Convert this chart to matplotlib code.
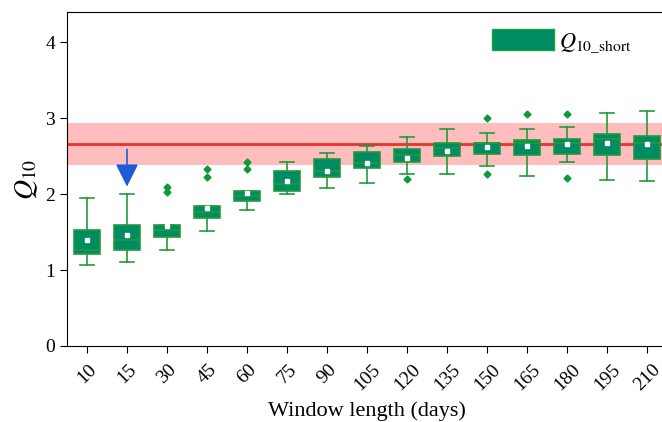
import matplotlib.pyplot as plt
from matplotlib.patches import Patch

windows = [10, 15, 30, 45, 60, 75, 90, 105, 120, 135, 150, 165, 180, 195, 210]
whisk_lo = [1.07, 1.11, 1.27, 1.52, 1.79, 2.00, 2.08, 2.15, 2.26, 2.26, 2.37, 2.24, 2.42, 2.19, 2.17]
box_q1 = [1.21, 1.26, 1.43, 1.68, 1.91, 2.04, 2.22, 2.35, 2.43, 2.50, 2.53, 2.51, 2.53, 2.52, 2.47]
box_med = [1.27, 1.39, 1.53, 1.76, 1.97, 2.13, 2.31, 2.41, 2.51, 2.61, 2.67, 2.67, 2.68, 2.73, 2.68]
box_q3 = [1.53, 1.60, 1.59, 1.85, 2.04, 2.30, 2.47, 2.55, 2.59, 2.67, 2.68, 2.72, 2.73, 2.79, 2.77]
whisk_hi = [1.95, 2.00, 1.59, 1.85, 2.04, 2.43, 2.54, 2.64, 2.75, 2.86, 2.81, 2.86, 2.89, 3.07, 3.10]
means = [1.40, 1.46, 1.58, 1.82, 2.02, 2.17, 2.31, 2.41, 2.48, 2.57, 2.62, 2.64, 2.66, 2.67, 2.66]
outliers = [[], [], [2.03, 2.09], [2.22, 2.33], [2.33, 2.42], [], [], [], [2.20], [],
            [2.26, 3.00], [3.06], [2.21, 3.05], [], []]

long_q10 = 2.66
long_lo = 2.38
long_hi = 2.94

plt.rcParams['font.family'] = ['Liberation Serif', 'DejaVu Serif']
plt.rcParams['mathtext.fontset'] = 'stix'

fill_c = '#008c62'
edge_c = '#239b3b'

fig = plt.figure(figsize=(6.62, 4.22), dpi=100)
ax = fig.add_axes([67 / 662, 76 / 422, 600 / 662, 334 / 422])

ax.axhspan(long_lo, long_hi, color='#ffbdbd', lw=0, zorder=0)
ax.axhline(long_q10, color='#e8312f', lw=2, zorder=1)

stats = []
for i in range(len(windows)):
    stats.append(dict(whislo=whisk_lo[i], q1=box_q1[i], med=box_med[i], q3=box_q3[i],
                      whishi=whisk_hi[i], mean=means[i], fliers=outliers[i]))

ax.bxp(stats, positions=range(len(windows)), widths=0.67, patch_artist=True,
       showmeans=True, showfliers=True,
       boxprops=dict(facecolor=fill_c, edgecolor=edge_c, lw=1.2),
       medianprops=dict(color=edge_c, lw=1.2),
       whiskerprops=dict(color=edge_c, lw=1.2),
       capprops=dict(color=edge_c, lw=1.2),
       capwidths=0.33,
       meanprops=dict(marker='s', markerfacecolor='white', markeredgecolor='white', markersize=3),
       flierprops=dict(marker='D', markerfacecolor='#0a9a3a', markeredgecolor='#0a9a3a', markersize=3.5),
       zorder=2)

# arrow marking the 15-day window
ax.annotate('', xy=(1, 2.10), xytext=(1, 2.59),
            arrowprops=dict(arrowstyle='-|>,head_width=0.5,head_length=1.0', color='#1f5bd6',
                            lw=1.2, mutation_scale=14, shrinkA=0, shrinkB=0))

ax.set_xlim(-0.5, 14.5)
ax.set_ylim(0, 4.4)
ax.set_yticks([0, 1, 2, 3, 4])
ax.set_xticks(range(len(windows)))
ax.set_xticklabels([str(w) for w in windows], rotation=45)
ax.tick_params(labelsize=14, direction='out', length=5)
ax.tick_params(axis='x', pad=6)
ax.set_xlabel('Window length (days)', fontsize=16, labelpad=5)
ax.set_ylabel(r'$Q_{10}$', fontsize=20, labelpad=4)

ax.legend(handles=[Patch(facecolor=fill_c, edgecolor=edge_c, label=r'$Q_{10\_\mathrm{short}}$')],
          loc='upper right', bbox_to_anchor=(0.975, 1.01), frameon=False, fontsize=16,
          handlelength=2.8, handleheight=1.1, handletextpad=0.25)

fig.savefig('out.png', dpi=100)
